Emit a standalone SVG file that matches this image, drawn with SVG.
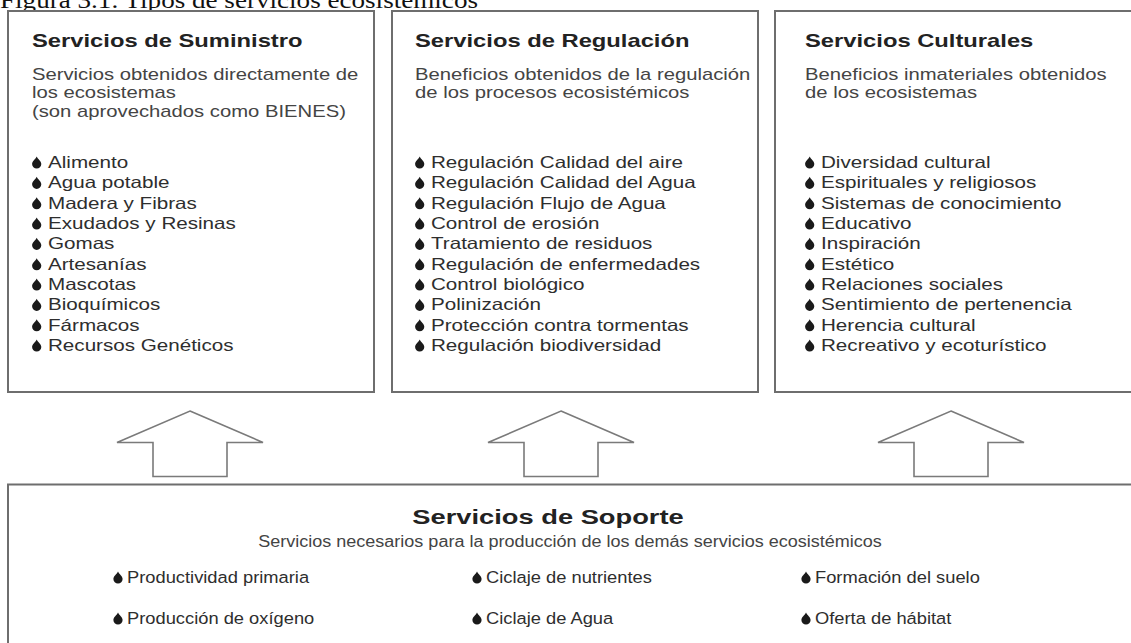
<svg xmlns="http://www.w3.org/2000/svg" xmlns:xlink="http://www.w3.org/1999/xlink" width="1131" height="643" viewBox="0 0 1131 643">
<style>
.box{fill:#fff;stroke:#6e6e6e;stroke-width:2}
.arrow{fill:#fff;stroke:#7a7a7a;stroke-width:1.6;stroke-linejoin:miter}
.t{font-family:"Liberation Sans",Arial,sans-serif;font-weight:bold;font-size:19px;fill:#222}
.tb{font-family:"Liberation Sans",Arial,sans-serif;font-weight:bold;font-size:21px;fill:#222}
.d{font-family:"Liberation Sans",Arial,sans-serif;font-size:16.2px;fill:#444}
.sd{font-family:"Liberation Sans",Arial,sans-serif;font-size:15.8px;fill:#444}
.l{font-family:"Liberation Sans",Arial,sans-serif;font-size:16.5px;fill:#2e2e2e}
.bl{font-family:"Liberation Sans",Arial,sans-serif;font-size:16.5px;fill:#2e2e2e}
.cap{font-family:"Liberation Serif","Times New Roman",serif;font-size:23px;fill:#111}
.dr{fill:#1a1a1a}
</style>
<defs>
<path id="drop" class="dr" d="M0,-11.5 C1.2,-8.6 4.6,-7 4.6,-4 A4.6,4.6 0 0 1 -4.6,-4 C-4.6,-7 -1.2,-8.6 0,-11.5 Z"/>
</defs>
<rect width="1131" height="643" fill="#fff"/>
<text class="cap" x="0" y="8" textLength="478" lengthAdjust="spacingAndGlyphs">Figura 3.1. Tipos de servicios ecosistémicos</text>

<g id="connectors">
<polygon class="arrow" points="190,411 263,442.5 227,442.5 227,476.5 153,476.5 153,442.5 117,442.5"/>
<polygon class="arrow" points="561,411 634,442.5 598,442.5 598,476.5 524,476.5 524,442.5 488,442.5"/>
<polygon class="arrow" points="951,411 1024,442.5 988,442.5 988,476.5 914,476.5 914,442.5 878,442.5"/>
</g>

<g id="suministro">
<rect class="box" x="8" y="11" width="366" height="381"/>
<g transform="translate(32 0) scale(1.25 1)">
<text class="t" x="0" y="47">Servicios de Suministro</text>
<text class="d" x="0" y="80">Servicios obtenidos directamente de</text>
<text class="d" x="0" y="98.5">los ecosistemas</text>
<text class="d" x="0" y="117">(son aprovechados como BIENES)</text>
<text class="l" x="12.8" y="168">Alimento</text>
<text class="l" x="12.8" y="188.3">Agua potable</text>
<text class="l" x="12.8" y="208.7">Madera y Fibras</text>
<text class="l" x="12.8" y="229">Exudados y Resinas</text>
<text class="l" x="12.8" y="249.3">Gomas</text>
<text class="l" x="12.8" y="269.7">Artesanías</text>
<text class="l" x="12.8" y="290">Mascotas</text>
<text class="l" x="12.8" y="310.3">Bioquímicos</text>
<text class="l" x="12.8" y="330.7">Fármacos</text>
<text class="l" x="12.8" y="351">Recursos Genéticos</text>
</g>
<use xlink:href="#drop" x="36.7" y="168"/>
<use xlink:href="#drop" x="36.7" y="188.3"/>
<use xlink:href="#drop" x="36.7" y="208.7"/>
<use xlink:href="#drop" x="36.7" y="229"/>
<use xlink:href="#drop" x="36.7" y="249.3"/>
<use xlink:href="#drop" x="36.7" y="269.7"/>
<use xlink:href="#drop" x="36.7" y="290"/>
<use xlink:href="#drop" x="36.7" y="310.3"/>
<use xlink:href="#drop" x="36.7" y="330.7"/>
<use xlink:href="#drop" x="36.7" y="351"/>
</g>

<g id="regulacion">
<rect class="box" x="392" y="11" width="366" height="381"/>
<g transform="translate(415 0) scale(1.25 1)">
<text class="t" x="0" y="47">Servicios de Regulación</text>
<text class="d" x="0" y="80">Beneficios obtenidos de la regulación</text>
<text class="d" x="0" y="98.5">de los procesos ecosistémicos</text>
<text class="l" x="12.8" y="168">Regulación Calidad del aire</text>
<text class="l" x="12.8" y="188.3">Regulación Calidad del Agua</text>
<text class="l" x="12.8" y="208.7">Regulación Flujo de Agua</text>
<text class="l" x="12.8" y="229">Control de erosión</text>
<text class="l" x="12.8" y="249.3">Tratamiento de residuos</text>
<text class="l" x="12.8" y="269.7">Regulación de enfermedades</text>
<text class="l" x="12.8" y="290">Control biológico</text>
<text class="l" x="12.8" y="310.3">Polinización</text>
<text class="l" x="12.8" y="330.7">Protección contra tormentas</text>
<text class="l" x="12.8" y="351">Regulación biodiversidad</text>
</g>
<use xlink:href="#drop" x="419.7" y="168"/>
<use xlink:href="#drop" x="419.7" y="188.3"/>
<use xlink:href="#drop" x="419.7" y="208.7"/>
<use xlink:href="#drop" x="419.7" y="229"/>
<use xlink:href="#drop" x="419.7" y="249.3"/>
<use xlink:href="#drop" x="419.7" y="269.7"/>
<use xlink:href="#drop" x="419.7" y="290"/>
<use xlink:href="#drop" x="419.7" y="310.3"/>
<use xlink:href="#drop" x="419.7" y="330.7"/>
<use xlink:href="#drop" x="419.7" y="351"/>
</g>

<g id="culturales">
<rect class="box" x="775" y="11" width="370" height="381"/>
<g transform="translate(805 0) scale(1.25 1)">
<text class="t" x="0" y="47">Servicios Culturales</text>
<text class="d" x="0" y="80">Beneficios inmateriales obtenidos</text>
<text class="d" x="0" y="98.5">de los ecosistemas</text>
<text class="l" x="12.8" y="168">Diversidad cultural</text>
<text class="l" x="12.8" y="188.3">Espirituales y religiosos</text>
<text class="l" x="12.8" y="208.7">Sistemas de conocimiento</text>
<text class="l" x="12.8" y="229">Educativo</text>
<text class="l" x="12.8" y="249.3">Inspiración</text>
<text class="l" x="12.8" y="269.7">Estético</text>
<text class="l" x="12.8" y="290">Relaciones sociales</text>
<text class="l" x="12.8" y="310.3">Sentimiento de pertenencia</text>
<text class="l" x="12.8" y="330.7">Herencia cultural</text>
<text class="l" x="12.8" y="351">Recreativo y ecoturístico</text>
</g>
<use xlink:href="#drop" x="809.7" y="168"/>
<use xlink:href="#drop" x="809.7" y="188.3"/>
<use xlink:href="#drop" x="809.7" y="208.7"/>
<use xlink:href="#drop" x="809.7" y="229"/>
<use xlink:href="#drop" x="809.7" y="249.3"/>
<use xlink:href="#drop" x="809.7" y="269.7"/>
<use xlink:href="#drop" x="809.7" y="290"/>
<use xlink:href="#drop" x="809.7" y="310.3"/>
<use xlink:href="#drop" x="809.7" y="330.7"/>
<use xlink:href="#drop" x="809.7" y="351"/>
</g>

<g id="soporte">
<rect class="box" x="8" y="484.5" width="1140" height="170"/>
<g transform="translate(548 0) scale(1.3 1)">
<text class="tb" x="0" y="524" text-anchor="middle">Servicios de Soporte</text>
</g>
<g transform="translate(570 0) scale(1.14 1)">
<text class="sd" x="0" y="547" text-anchor="middle">Servicios necesarios para la producción de los demás servicios ecosistémicos</text>
</g>
<g transform="translate(127 0) scale(1.11 1)">
<text class="bl" x="0" y="583">Productividad primaria</text>
<text class="bl" x="0" y="624">Producción de oxígeno</text>
</g>
<g transform="translate(486 0) scale(1.11 1)">
<text class="bl" x="0" y="583">Ciclaje de nutrientes</text>
<text class="bl" x="0" y="624">Ciclaje de Agua</text>
</g>
<g transform="translate(815 0) scale(1.11 1)">
<text class="bl" x="0" y="583">Formación del suelo</text>
<text class="bl" x="0" y="624">Oferta de hábitat</text>
</g>
<use xlink:href="#drop" x="118" y="583"/>
<use xlink:href="#drop" x="118" y="624"/>
<use xlink:href="#drop" x="477" y="583"/>
<use xlink:href="#drop" x="477" y="624"/>
<use xlink:href="#drop" x="806" y="583"/>
<use xlink:href="#drop" x="806" y="624"/>
</g>
</svg>
